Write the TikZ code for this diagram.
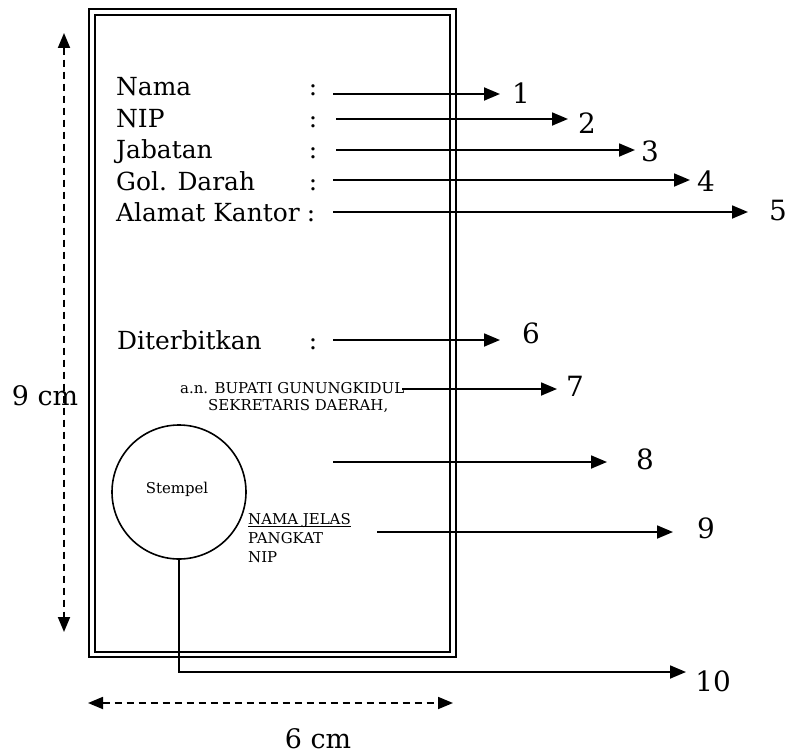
\documentclass[tikz,border=0pt]{standalone}
\usepackage{fontspec}
\setmainfont{DejaVu Serif}
\usetikzlibrary{arrows.meta}
\begin{document}
\begin{tikzpicture}[x=1bp,y=-1bp,
  big/.style={inner sep=0pt,font=\fontsize{25}{28}\selectfont},
  small/.style={inner sep=0pt,font=\fontsize{15}{17}\selectfont},
  num/.style={inner sep=0pt,font=\fontsize{28}{32}\selectfont},
  cmlab/.style={inner sep=0pt,font=\fontsize{27}{30}\selectfont},
  arr/.style={line width=1.8bp,-{Triangle[length=16bp,width=13bp]}},
  dimarr/.style={line width=1.8bp,dash pattern=on 7bp off 5bp,{Triangle[length=15bp,width=12bp]}-{Triangle[length=15bp,width=12bp]}}]
\useasboundingbox (0,0) rectangle (792,755);
% card frame
\draw[line width=2bp] (89,9) rectangle (456,657);
\draw[line width=1.5bp] (95,15) rectangle (450,652);
% dimension arrows
\coordinate (vtop) at (64,33);
\coordinate (vbot) at (64,632);
\draw[dimarr] (vtop) -- (vbot);
\node[cmlab,anchor=base] (h9) at (45,405) {9 cm};
\coordinate (hl) at (88,703);
\coordinate (hr) at (453,703);
\draw[dimarr] (hl) -- (hr);
\node[cmlab,anchor=base] (w6) at (318,748) {6 cm};
% field labels
\node[big,anchor=base west] (f1) at (116,95) {Nama};
\node[big,anchor=base west] (f2) at (116,127) {NIP};
\node[big,anchor=base west] (f3) at (116,158) {Jabatan};
\node[big,anchor=base west] (f4) at (116,190) {Gol. Darah};
\node[big,anchor=base west] (f5) at (116,221) {Alamat Kantor};
\node[big,anchor=base west] (f6) at (117,349) {Diterbitkan};
\node[big,anchor=base] (c1) at (313,95) {:};
\node[big,anchor=base] (c2) at (313,127) {:};
\node[big,anchor=base] (c3) at (313,158) {:};
\node[big,anchor=base] (c4) at (313,190) {:};
\node[big,anchor=base] (c5) at (311,221) {:};
\node[big,anchor=base] (c6) at (313,349) {:};
% signature block
\node[small,anchor=base west] (an) at (180,393) {a.n. BUPATI GUNUNGKIDUL};
\node[small,anchor=base west] (sek) at (208,410) {SEKRETARIS DAERAH,};
\node[draw,circle,line width=1.6bp,minimum size=134bp,inner sep=0pt] (stamp) at (179,492) {};
\node[small,anchor=base] (stl) at (177,493) {Stempel};
\node[small,anchor=base west] (nj) at (248,524) {NAMA JELAS};
\draw[line width=0.8bp] (nj.base west) ++(0,2.5) -- ([yshift=-2.5bp]nj.base east);
\node[small,anchor=base west] (pk) at (248,543) {PANGKAT};
\node[small,anchor=base west] (np) at (248,562) {NIP};
% arrow start and end points
\coordinate (s1) at (333,94);  \coordinate (t1) at (500,94);
\coordinate (s2) at (336,119); \coordinate (t2) at (568,119);
\coordinate (s3) at (336,150); \coordinate (t3) at (635,150);
\coordinate (s4) at (333,180); \coordinate (t4) at (690,180);
\coordinate (s5) at (333,212); \coordinate (t5) at (748,212);
\coordinate (s6) at (333,340); \coordinate (t6) at (500,340);
\coordinate (s7) at (402,389); \coordinate (t7) at (557,389);
\coordinate (s8) at (333,462); \coordinate (t8) at (607,462);
\coordinate (s9) at (377,532); \coordinate (t9) at (673,532);
\coordinate (t10) at (686,672);
\foreach \i in {1,...,9} {\draw[arr] (s\i) -- (t\i);}
\draw[arr] (stamp.south) |- (t10);
% numbers
\node[num] (n1) at (521,93.5) {1};
\node[num] (n2) at (587,123) {2};
\node[num] (n3) at (650,151) {3};
\node[num] (n4) at (706,181) {4};
\node[num] (n5) at (778,211) {5};
\node[num] (n6) at (531,333) {6};
\node[num] (n7) at (575,386) {7};
\node[num] (n8) at (645,459) {8};
\node[num] (n9) at (706,528) {9};
\node[num] (n10) at (713,681) {10};
\end{tikzpicture}
\end{document}
